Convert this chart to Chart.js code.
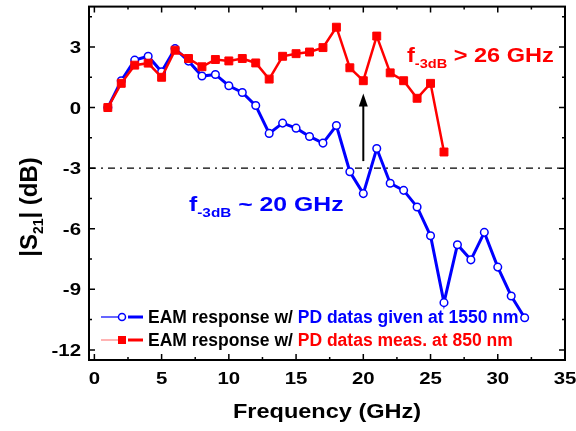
<!DOCTYPE html>
<html>
<head>
<meta charset="utf-8">
<script src="https://cdn.jsdelivr.net/npm/chart.js@4"></script>
<style>
  html, body { margin: 0; padding: 0; background: #fff; }
  #wrap { width: 576px; height: 431px; }
</style>
</head>
<body>
<div id="wrap"><canvas id="c" width="576" height="431"></canvas></div>
<script>
// frequency points (GHz)
const freqBlue = [1, 2, 3, 4, 5, 6, 7, 8, 9, 10, 11, 12, 13, 14, 15, 16, 17, 18, 19, 20,
  21, 22, 23, 24, 25, 26, 27, 28, 29, 30, 31, 32];
const freqRed = [1, 2, 3, 4, 5, 6, 7, 8, 9, 10, 11, 12, 13, 14, 15, 16, 17, 18, 19, 20,
  21, 22, 23, 24, 25, 26];

// |S21| in dB
const s21Blue = [0, 1.33, 2.35, 2.54, 1.77, 2.92, 2.3, 1.56, 1.64, 1.08, 0.75, 0.1,
  -1.28, -0.77, -1.02, -1.43, -1.76, -0.89, -3.18, -4.26, -2.03, -3.75, -4.1, -4.92,
  -6.35, -9.66, -6.79, -7.54, -6.18, -7.9, -9.33, -10.41];
const s21Red = [0, 1.2, 2.1, 2.2, 1.5, 2.84, 2.43, 2.02, 2.38, 2.31, 2.43, 2.21, 1.41,
  2.54, 2.67, 2.75, 2.97, 3.98, 1.97, 1.33, 3.54, 1.72, 1.33, 0.46, 1.2, -2.2];

const xTicks = [0, 5, 10, 15, 20, 25, 30, 35];
const yTicks = [-12, -9, -6, -3, 0, 3];
const xMinor = [2.5, 7.5, 12.5, 17.5, 22.5, 27.5, 32.5];
const yMinor = [-10.5, -7.5, -4.5, -1.5, 1.5, 4.5];

const BLUE = '#0000ff';
const RED = '#ff0000';
const FONT = '"Liberation Sans", Arial, sans-serif';

// the original text is a bit wider than plain Arial bold, so stretch it in x
function txt(ctx, t, x, y, size, color, align, sx) {
  ctx.save();
  ctx.font = 'bold ' + size + 'px ' + FONT;
  ctx.fillStyle = color;
  ctx.textAlign = 'left';
  const w = ctx.measureText(t).width * sx;
  let x0 = x;
  if (align === 'center') x0 = x - w / 2;
  if (align === 'right') x0 = x - w;
  ctx.translate(x0, y);
  ctx.scale(sx, 1);
  ctx.fillText(t, 0, 0);
  ctx.restore();
  return w;
}

// row of text pieces (subscripts, two-colour labels)
function richText(ctx, x, y, parts, sx) {
  let cx = x;
  parts.forEach(p => {
    cx += txt(ctx, p.t, cx, y + (p.dy || 0), p.size, p.color, 'left', sx);
  });
}

const decor = {
  id: 'decor',
  beforeDatasetsDraw(chart) {
    const { ctx, chartArea: a, scales: { y } } = chart;
    // -3 dB reference line
    ctx.save();
    ctx.strokeStyle = '#000';
    ctx.lineWidth = 1.3;
    ctx.setLineDash([7, 5, 2, 5]);
    ctx.beginPath();
    ctx.moveTo(a.left, y.getPixelForValue(-3));
    ctx.lineTo(a.right, y.getPixelForValue(-3));
    ctx.stroke();
    ctx.restore();
  },
  afterDatasetsDraw(chart) {
    const { ctx, chartArea: a, scales: { x, y } } = chart;
    ctx.save();
    // frame
    ctx.strokeStyle = '#000';
    ctx.lineWidth = 2;
    ctx.strokeRect(a.left, a.top, a.right - a.left, a.bottom - a.top);
    // inward ticks on all four sides
    ctx.lineWidth = 1.5;
    ctx.beginPath();
    const tx = (v, len) => {
      const px = x.getPixelForValue(v);
      ctx.moveTo(px, a.bottom); ctx.lineTo(px, a.bottom - len);
      ctx.moveTo(px, a.top); ctx.lineTo(px, a.top + len);
    };
    const ty = (v, len) => {
      const py = y.getPixelForValue(v);
      ctx.moveTo(a.left, py); ctx.lineTo(a.left + len, py);
      ctx.moveTo(a.right, py); ctx.lineTo(a.right - len, py);
    };
    xTicks.forEach(v => tx(v, 6));
    xMinor.forEach(v => tx(v, 3));
    yTicks.forEach(v => ty(v, 6));
    yMinor.forEach(v => ty(v, 3));
    ctx.stroke();

    // tick labels
    xTicks.forEach(v => txt(ctx, String(v), x.getPixelForValue(v), 384, 17, '#000', 'center', 1.2));
    yTicks.forEach(v => txt(ctx, String(v), 81, y.getPixelForValue(v) + 6, 17, '#000', 'right', 1.2));

    // arrow at 20 GHz
    const ax = x.getPixelForValue(20);
    ctx.lineWidth = 2;
    ctx.beginPath();
    ctx.moveTo(ax, y.getPixelForValue(-2.65));
    ctx.lineTo(ax, y.getPixelForValue(0.3));
    ctx.stroke();
    const tip = y.getPixelForValue(0.7);
    ctx.fillStyle = '#000';
    ctx.beginPath();
    ctx.moveTo(ax, tip);
    ctx.lineTo(ax - 4.5, tip + 13);
    ctx.lineTo(ax + 4.5, tip + 13);
    ctx.closePath();
    ctx.fill();

    // annotations
    richText(ctx, 407, 62, [
      { t: 'f', size: 21, color: RED },
      { t: '-3dB', size: 13, color: RED, dy: 6 },
      { t: ' > 26 GHz', size: 21, color: RED }
    ], 1.12);
    richText(ctx, 189, 211, [
      { t: 'f', size: 21, color: BLUE },
      { t: '-3dB', size: 13, color: BLUE, dy: 6 },
      { t: ' ~ 20 GHz', size: 21, color: BLUE }
    ], 1.18);

    // legend
    const lg = [
      { y: 317, c: BLUE, thin: BLUE, a: 'PD datas given at 1550 nm', marker: 'circle' },
      { y: 340, c: RED, thin: '#ff8080', a: 'PD datas meas. at 850 nm', marker: 'rect' }
    ];
    lg.forEach(r => {
      ctx.strokeStyle = r.thin;
      ctx.lineWidth = 1.2;
      ctx.beginPath();
      ctx.moveTo(101, r.y); ctx.lineTo(118, r.y);
      ctx.stroke();
      ctx.strokeStyle = r.c;
      ctx.lineWidth = 3;
      ctx.beginPath();
      ctx.moveTo(128, r.y); ctx.lineTo(143, r.y);
      ctx.stroke();
      if (r.marker === 'circle') {
        ctx.fillStyle = '#fff';
        ctx.lineWidth = 1.5;
        ctx.beginPath();
        ctx.arc(122, r.y, 3.5, 0, Math.PI * 2);
        ctx.fill(); ctx.stroke();
      } else {
        ctx.fillStyle = r.c;
        ctx.fillRect(118, r.y - 4, 8, 8);
      }
      richText(ctx, 148, r.y + 6, [
        { t: 'EAM response w/ ', size: 17.5, color: '#000' },
        { t: r.a, size: 17.5, color: r.c }
      ], 1.0);
    });

    // axis titles
    txt(ctx, 'Frequency (GHz)', 327, 418, 21, '#000', 'center', 1.12);
    ctx.translate(37, 0);
    ctx.rotate(-Math.PI / 2);
    ctx.font = 'bold 24px ' + FONT;
    const w1 = ctx.measureText('|S').width;
    const w3 = ctx.measureText('| (dB)').width;
    ctx.font = 'bold 14px ' + FONT;
    const w2 = ctx.measureText('21').width;
    richText(ctx, -207 - (w1 + w2 + w3) / 2, 0, [
      { t: '|S', size: 24, color: '#000' },
      { t: '21', size: 14, color: '#000', dy: 6 },
      { t: '| (dB)', size: 24, color: '#000' }
    ], 1.0);
    ctx.restore();
  }
};

new Chart(document.getElementById('c'), {
  type: 'line',
  data: {
    datasets: [
      {
        label: 'EAM response w/ PD datas meas. at 850 nm',
        data: freqRed.map((f, i) => ({ x: f, y: s21Red[i] })),
        borderColor: RED,
        borderWidth: 2.5,
        pointStyle: 'rect',
        pointRadius: 5.6,
        pointBackgroundColor: RED,
        pointBorderColor: RED,
        pointBorderWidth: 1,
        order: 0
      },
      {
        label: 'EAM response w/ PD datas given at 1550 nm',
        data: freqBlue.map((f, i) => ({ x: f, y: s21Blue[i] })),
        borderColor: BLUE,
        borderWidth: 3,
        pointStyle: 'circle',
        pointRadius: 3.8,
        pointBackgroundColor: '#fff',
        pointBorderColor: BLUE,
        pointBorderWidth: 1.5,
        order: 1
      }
    ]
  },
  options: {
    responsive: false,
    animation: false,
    layout: { padding: { top: 5, right: 11, left: 0, bottom: 0 } },
    plugins: { legend: { display: false }, tooltip: { enabled: false } },
    scales: {
      x: {
        type: 'linear',
        min: -0.4,
        max: 35,
        grid: { display: false, drawTicks: false },
        border: { display: false },
        afterBuildTicks: s => { s.ticks = xTicks.map(v => ({ value: v })); },
        afterFit: s => { s.height = 71; },
        ticks: { display: false }
      },
      y: {
        type: 'linear',
        min: -12.5,
        max: 5,
        grid: { display: false, drawTicks: false },
        border: { display: false },
        afterBuildTicks: s => { s.ticks = yTicks.map(v => ({ value: v })); },
        afterFit: s => { s.width = 89; },
        ticks: { display: false }
      }
    }
  },
  plugins: [decor]
});
</script>
</body>
</html>
